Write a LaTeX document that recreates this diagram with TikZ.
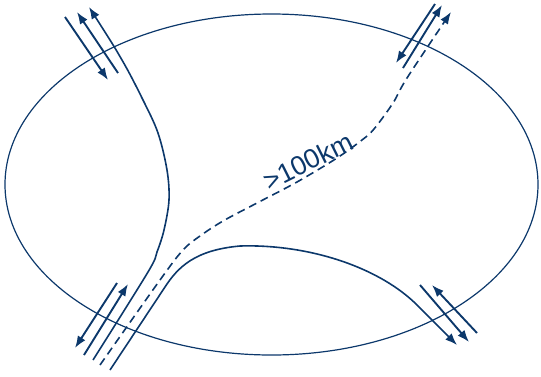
\documentclass[tikz,border=0pt]{standalone}
\usepackage{fontspec}
\setmainfont{Liberation Sans}
\usetikzlibrary{arrows.meta}
\definecolor{navy}{RGB}{12,56,107}
\tikzset{
  x=1pt, y=-1pt,
  rim/.style={draw=navy, line width=1.2pt},
  fibre/.style={draw=navy, line width=1.6pt},
  dfibre/.style={draw=navy, line width=1.6pt, dash pattern=on 8pt off 5pt},
  flow/.style={draw=navy, line width=1.9pt, -{Latex[length=12pt,width=9pt]}},
  tip/.style={-{Latex[length=12pt,width=9pt]}},
  pit/.style={{Latex[length=12pt,width=9pt]}-}
}
\begin{document}
\begin{tikzpicture}
\useasboundingbox (0,0) rectangle (541,376);
% ring
\draw[rim] (271.5,184.5) ellipse [x radius=266.5pt, y radius=170.5pt];
% fibre 1 (left loop)
\draw[fibre, pit] plot[smooth, tension=0.55] coordinates {(89,7) (122,60) (143,100) (158,133) (167,170) (169,200) (164,230) (157,252) (148,272) (93,360)};
% dashed fibre
\draw[dfibre, tip] plot[smooth, tension=0.55] coordinates {(100,365) (160,280) (183,250) (200,236) (223,221) (257,203) (297,182) (337,158) (362,140) (374,129) (393,103) (407,78) (451,12)};
% fibre 3
\draw[fibre, tip] (110,370) -- (165,287) .. controls (178,267) and (195,250) .. (240,246) .. controls (305,244) and (375,265) .. (415,303) -- (457,345);
% arrows top-left
\coordinate (a1) at (65,17); \coordinate (a2) at (108,80);
\coordinate (b1) at (118,73); \coordinate (b2) at (77,12);
\draw[flow] (a1) -- (a2);
\draw[flow] (b1) -- (b2);
% arrows bottom-left
\coordinate (d1) at (117,283); \coordinate (d2) at (75,348);
\coordinate (e1) at (84,355); \coordinate (e2) at (128,284);
\draw[flow] (d1) -- (d2);
\draw[flow] (e1) -- (e2);
% arrows top-right
\coordinate (f1) at (435,4); \coordinate (f2) at (396,63);
\coordinate (g1) at (403,68); \coordinate (g2) at (442,5);
\draw[flow] (f1) -- (f2);
\draw[flow] (g1) -- (g2);
% arrows bottom-right
\coordinate (h1) at (420,285); \coordinate (h2) at (469,342);
\coordinate (i1) at (477,333); \coordinate (i2) at (432,285);
\draw[flow] (h1) -- (h2);
\draw[flow] (i1) -- (i2);
% label
\node[text=navy, rotate=26.6, inner sep=0pt, font=\fontsize{27}{32}\selectfont] (lbl) at (308,161) {>100km};
\end{tikzpicture}
\end{document}
